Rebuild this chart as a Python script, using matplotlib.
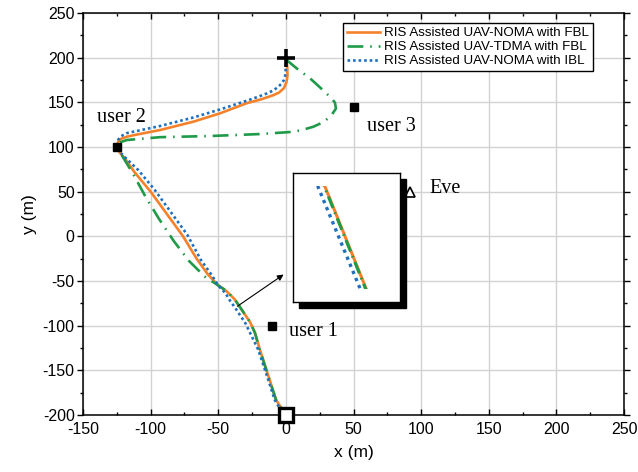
import matplotlib
matplotlib.use('Agg')
import matplotlib.pyplot as plt
from matplotlib.patches import Rectangle

plt.rcParams['font.family'] = ['Liberation Sans', 'DejaVu Sans']
plt.rcParams['axes.unicode_minus'] = False

# trajectories, from the final point (0, 200) back to the start (0, -200)
noma_fbl_x = [0, 1, 1.2, 0.5, -1.4, -5, -9.3, -18, -29, -48.7, -68.5, -93, -110, -117.7, -122, -124, -125,
              -123, -118, -112, -100, -88, -76, -66, -58, -50, -45, -41, -37.6, -32.7, -26.5, -22.8,
              -19.2, -11.3, -7.3, -3, 0]
noma_fbl_y = [200, 190, 180, 173, 166, 161, 158, 153.5, 149, 137.7, 128.3, 119, 114, 111.5, 109, 106, 100,
              94, 85, 72, 50, 25, 0, -25, -42, -55, -60, -65.5, -71, -82, -96, -108,
              -127, -164, -183, -193, -200]

tdma_fbl_x = [0, 8, 17.8, 25, 30, 34, 36.3, 37, 33.8, 28, 20.3, 12, 5.5, -19, -56, -93, -117.7, -123, -125,
              -123, -121, -113, -104, -94, -83, -72, -60, -50, -45, -41.2, -37.6, -32.7, -26.5, -22.9,
              -19.3, -11.4, -7.3, -3, 0]
tdma_fbl_y = [198, 188, 177, 167, 160, 154, 149.6, 143, 135.8, 128, 122.7, 119, 117, 114.5, 112.3, 111, 107.8, 105, 100,
              96, 90, 70, 45, 20, -5, -27, -45, -55, -60, -65.5, -71, -82, -96, -108,
              -127, -164, -183, -193, -200]

noma_ibl_x = [0, 0, -0.5, -1.4, -3.5, -5.6, -9, -14, -20, -29, -48.7, -68.5, -93, -110, -117.7, -122, -124, -125,
              -123, -120, -109, -97, -85, -73, -62.8, -55, -50, -44.5, -41.3, -37.5, -34, -30, -26.5,
              -20.4, -12.3, -8.3, -4, 0]
noma_ibl_y = [200, 190, 180, 175, 170.5, 167.5, 163.5, 160, 156.5, 151.8, 142, 133, 123.5, 118, 115.5, 112, 108, 100,
              95, 90, 74, 52, 27, 2, -26.5, -43, -55, -64, -72, -80, -88, -97, -108,
              -127, -164, -183, -194, -200]

user_names = ['user 1', 'user 2', 'user 3']
user_x = [-10, -125, 50]
user_y = [-100, 100, 145]
label_x = [2, -140, 60]
label_y = [-107, 133, 123]
eve = (92, 50)
eve_label = (106, 53)
start = (0, -200)
final = (0, 200)

C_ORANGE = '#F5822A'
C_GREEN = '#1E9A48'
C_BLUE = '#1F6FBF'
GREEN_DASH = (0, (6, 2.6, 0.6, 2.6))

fig = plt.figure(figsize=(6.38, 4.72), dpi=100)
ax = fig.add_axes([83 / 638, 1 - 415 / 472, 541 / 638, 402 / 472])

ax.plot(noma_fbl_x, noma_fbl_y, color=C_ORANGE, lw=1.9, label='RIS Assisted UAV-NOMA with FBL', zorder=3)
ax.plot(tdma_fbl_x, tdma_fbl_y, color=C_GREEN, lw=1.9, ls=GREEN_DASH, label='RIS Assisted UAV-TDMA with FBL', zorder=4)
ax.plot(noma_ibl_x, noma_ibl_y, color=C_BLUE, lw=1.9, ls=(0, (1, 1.1)), label='RIS Assisted UAV-NOMA with IBL', zorder=5)

ax.plot(user_x, user_y, 's', color='black', ms=6, zorder=6, ls='none')
for name, lx, ly in zip(user_names, label_x, label_y):
    ax.text(lx, ly, name, family='Liberation Serif', fontsize=14.5, va='center', ha='left')
ax.plot(*eve, '^', mfc='white', mec='black', ms=7, mew=1.2, zorder=6)
ax.text(*eve_label, 'Eve', family='Liberation Serif', fontsize=14.5, va='center', ha='left')
ax.plot(*start, 's', mfc='white', mec='black', ms=10, mew=2.4, zorder=7, clip_on=False)
ax.plot(*final, '+', color='black', ms=13, mew=2.6, zorder=7)

ax.set_xlim(-150, 250)
ax.set_ylim(-200, 250)
ax.set_xticks(range(-150, 251, 50))
ax.set_yticks(range(-200, 251, 50))
ax.set_xticks(range(-125, 251, 50), minor=True)
ax.set_yticks(range(-175, 251, 50), minor=True)
ax.grid(True, which='major', color='#d2d2d2', lw=1.0)
ax.set_axisbelow(True)
ax.tick_params(axis='x', which='both', direction='in', top=True, labelsize=11.5, pad=5)
ax.tick_params(axis='y', which='both', direction='out', right=True, labelsize=11.5, pad=2)
ax.tick_params(which='major', length=4, width=1)
ax.tick_params(which='minor', length=2.5, width=1)
for s in ax.spines.values():
    s.set_linewidth(1.1)
ax.set_xlabel('x (m)', fontsize=12.5, labelpad=6)
ax.set_ylabel('y (m)', fontsize=12.5, labelpad=4)

leg = ax.legend(loc='upper right', bbox_to_anchor=(0.943, 0.975), fontsize=9.6,
                frameon=True, fancybox=False, edgecolor='black', framealpha=1,
                handlelength=2.5, handletextpad=0.3, borderpad=0.3, labelspacing=0.12,
                borderaxespad=0)
leg.get_frame().set_linewidth(1.0)

# zoomed inset with a drop shadow
ins_l, ins_b, ins_w, ins_h = 292.7 / 638, 1 - 302.3 / 472, 107 / 638, 129 / 472
fig.patches.append(Rectangle((ins_l + 6 / 638, ins_b - 6 / 472), ins_w, ins_h,
                             transform=fig.transFigure, color='black', zorder=8))
ins = fig.add_axes([ins_l, ins_b, ins_w, ins_h], zorder=9)
clip = Rectangle((0, 0.10), 1, 0.80, transform=ins.transAxes, visible=False)
ins.add_patch(clip)
lines = []
lines += ins.plot(noma_fbl_x, noma_fbl_y, color=C_ORANGE, lw=2.2)
lines += ins.plot(tdma_fbl_x, tdma_fbl_y, color=C_GREEN, lw=2.2, ls=(0, (4, 1.6, 0.5, 1.6)))
lines += ins.plot(noma_ibl_x, noma_ibl_y, color=C_BLUE, lw=2.4, ls=(0, (1, 1.3)))
for ln in lines:
    ln.set_clip_path(clip)
ins.set_xlim(-24.2, -6.1)
ins.set_ylim(-166.1, -124.9)
ins.set_xticks([])
ins.set_yticks([])
for s in ins.spines.values():
    s.set_linewidth(1.0)

ax.annotate('', xy=(0, -41), xytext=(-37.5, -80),
            arrowprops=dict(arrowstyle='-|>', color='black', lw=0.8, mutation_scale=9), zorder=8)

fig.savefig('out.png', dpi=100)
